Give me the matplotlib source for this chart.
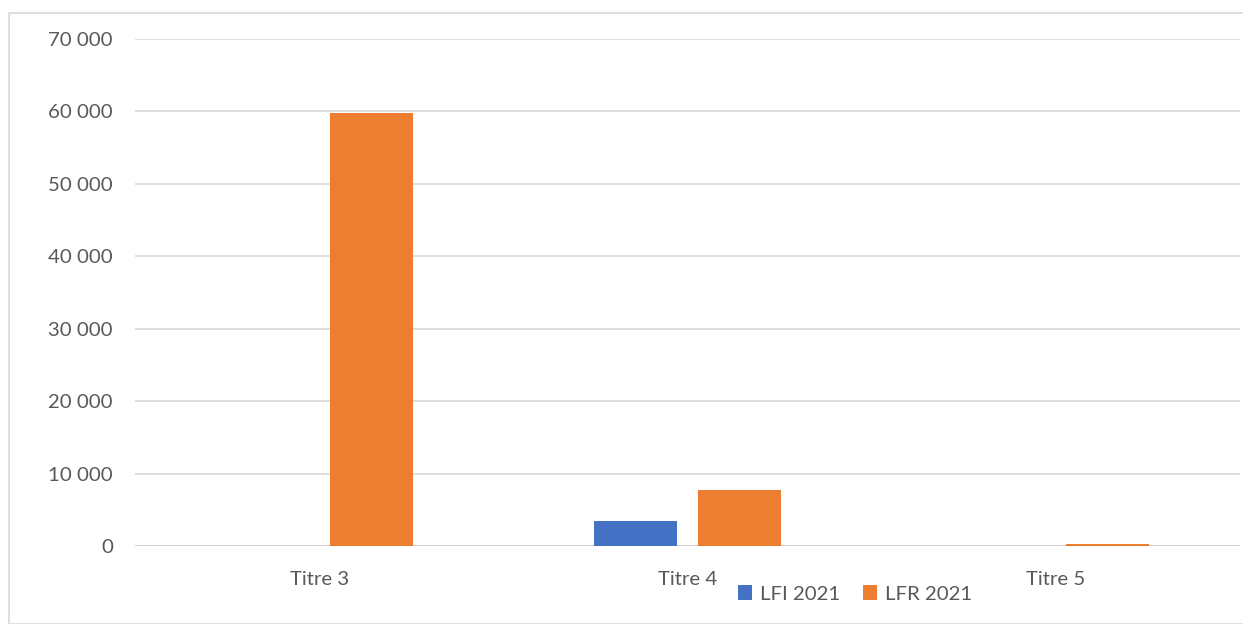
import numpy as np
import matplotlib.pyplot as plt
from matplotlib.patches import Rectangle
from matplotlib.ticker import FuncFormatter

categories = ['Titre 3', 'Titre 4', 'Titre 5']
lfi_2021 = [0, 3400, 0]
lfr_2021 = [59750, 7750, 250]
series_names = ['LFI 2021', 'LFR 2021']

plt.rcParams['font.family'] = ['Lato', 'DejaVu Sans']

fig = plt.figure(figsize=(12.43, 6.24), dpi=100)
ax = fig.add_axes([135 / 1243, 1 - 546 / 624, (1240 - 135) / 1243, (546 - 39) / 624])

# outer chart border
fig.patches.append(Rectangle((9 / 1243, 0), 1.2, 1 - 13 / 624, transform=fig.transFigure,
                             fill=False, edgecolor='#d9d9d9', linewidth=1.2))

x = np.arange(len(categories))
w = 0.225
off = 0.141
ax.bar(x - off, lfi_2021, w, color='#4472c4', label=series_names[0], zorder=3)
ax.bar(x + off, lfr_2021, w, color='#ed7d31', label=series_names[1], zorder=3)

ax.set_xlim(-0.5, 2.5)
ax.set_ylim(0, 70000)
ax.set_yticks(range(0, 70001, 10000))
ax.yaxis.set_major_formatter(FuncFormatter(lambda v, p: f'{int(v):,}'.replace(',', ' ')))
ax.grid(axis='y', color='#d9d9d9', linewidth=1.2, zorder=0)
for s in ax.spines.values():
    s.set_visible(False)
ax.axhline(0, color='#d0d0d0', linewidth=1.2, zorder=2)

ax.set_xticks(x)
ax.set_xticklabels(categories)
ax.tick_params(axis='both', length=0, labelsize=14.7, labelcolor='#595959')
ax.tick_params(axis='y', pad=16)
ax.tick_params(axis='x', pad=18)

ax.legend(loc='center', bbox_to_anchor=(855 / 1243, 1 - 594 / 624), bbox_transform=fig.transFigure,
          ncol=2, frameon=False, fontsize=14.7, labelcolor='#595959', handlelength=0.7,
          handleheight=0.7, handletextpad=0.4, columnspacing=1.1)

fig.savefig('out.png', dpi=100)
